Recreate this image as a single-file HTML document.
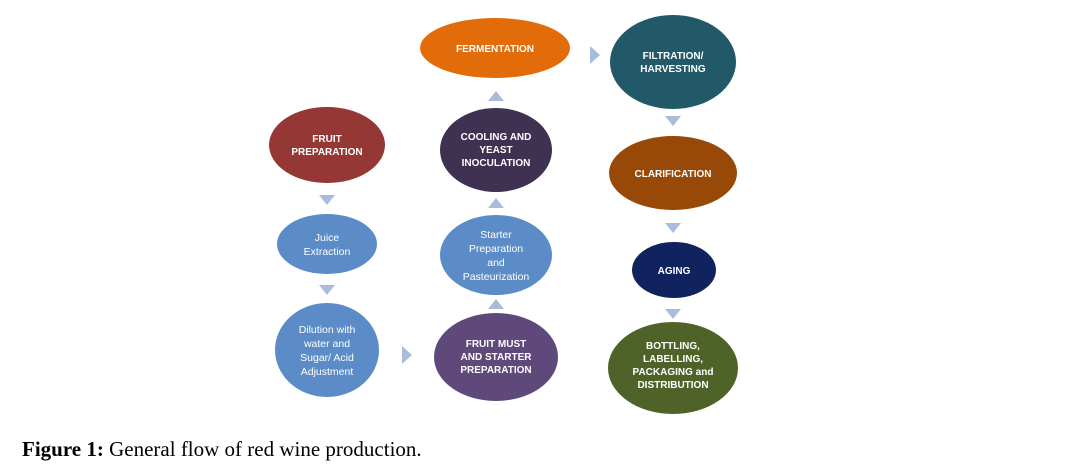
<!DOCTYPE html>
<html><head><meta charset="utf-8"><style>
body{margin:0;background:#fff;width:1074px;height:473px;overflow:hidden}
svg{position:absolute;left:0;top:0}
.t{font-family:"Liberation Sans",sans-serif;font-size:10px;font-weight:bold;fill:#fff;text-anchor:middle}
.n{font-family:"Liberation Sans",sans-serif;font-size:10.5px;fill:#fff;text-anchor:middle}
.cap{position:absolute;left:22px;top:437px;font-family:"Liberation Serif",serif;font-size:21px;color:#000;white-space:nowrap}
</style></head><body>
<svg width="1074" height="473">
<g fill="#A9BCDB">
<polygon points="319,195 335,195 327,205"/>
<polygon points="319,285 335,285 327,295"/>
<polygon points="665,116 681,116 673,126"/>
<polygon points="665,223 681,223 673,233"/>
<polygon points="665,309 681,309 673,319"/>
<polygon points="488,101 504,101 496,91"/>
<polygon points="488,208 504,208 496,198"/>
<polygon points="488,309 504,309 496,299"/>
<polygon points="590,46 590,64 600,55"/>
<polygon points="402,346 402,364 412,355"/>
</g>
<ellipse cx="495" cy="48" rx="75" ry="30" fill="#E36C0A"/>
<text class="t" x="495" y="52">FERMENTATION</text>
<ellipse cx="673" cy="62" rx="63" ry="47" fill="#215968"/>
<text class="t" x="673" y="59">FILTRATION/</text><text class="t" x="673" y="72">HARVESTING</text>
<ellipse cx="327" cy="145" rx="58" ry="38" fill="#953735"/>
<text class="t" x="327" y="142">FRUIT</text><text class="t" x="327" y="155">PREPARATION</text>
<ellipse cx="496" cy="150" rx="56" ry="42" fill="#3F3151"/>
<text class="t" x="496" y="140">COOLING AND</text><text class="t" x="496" y="153">YEAST</text><text class="t" x="496" y="166">INOCULATION</text>
<ellipse cx="673" cy="173" rx="64" ry="37" fill="#984807"/>
<text class="t" x="673" y="177">CLARIFICATION</text>
<ellipse cx="327" cy="244" rx="50" ry="30" fill="#5B8CC8"/>
<text class="n" x="327" y="241">Juice</text><text class="n" x="327" y="255">Extraction</text>
<ellipse cx="496" cy="255" rx="56" ry="40" fill="#5B8CC8"/>
<text class="n" x="496" y="238">Starter</text><text class="n" x="496" y="252">Preparation</text><text class="n" x="496" y="266">and</text><text class="n" x="496" y="280">Pasteurization</text>
<ellipse cx="674" cy="270" rx="42" ry="28" fill="#10235E"/>
<text class="t" x="674" y="274">AGING</text>
<ellipse cx="327" cy="350" rx="52" ry="47" fill="#5B8CC8"/>
<text class="n" x="327" y="333">Dilution with</text><text class="n" x="327" y="347">water and</text><text class="n" x="327" y="361">Sugar/ Acid</text><text class="n" x="327" y="375">Adjustment</text>
<ellipse cx="496" cy="357" rx="62" ry="44" fill="#5F497A"/>
<text class="t" x="496" y="347">FRUIT MUST</text><text class="t" x="496" y="360">AND STARTER</text><text class="t" x="496" y="373">PREPARATION</text>
<ellipse cx="673" cy="368" rx="65" ry="46" fill="#4F6228"/>
<text class="t" x="673" y="349">BOTTLING,</text><text class="t" x="673" y="362">LABELLING,</text><text class="t" x="673" y="375">PACKAGING and</text><text class="t" x="673" y="388">DISTRIBUTION</text>
</svg>
<div class="cap"><b>Figure 1:</b> General flow of red wine production.</div>
</body></html>
